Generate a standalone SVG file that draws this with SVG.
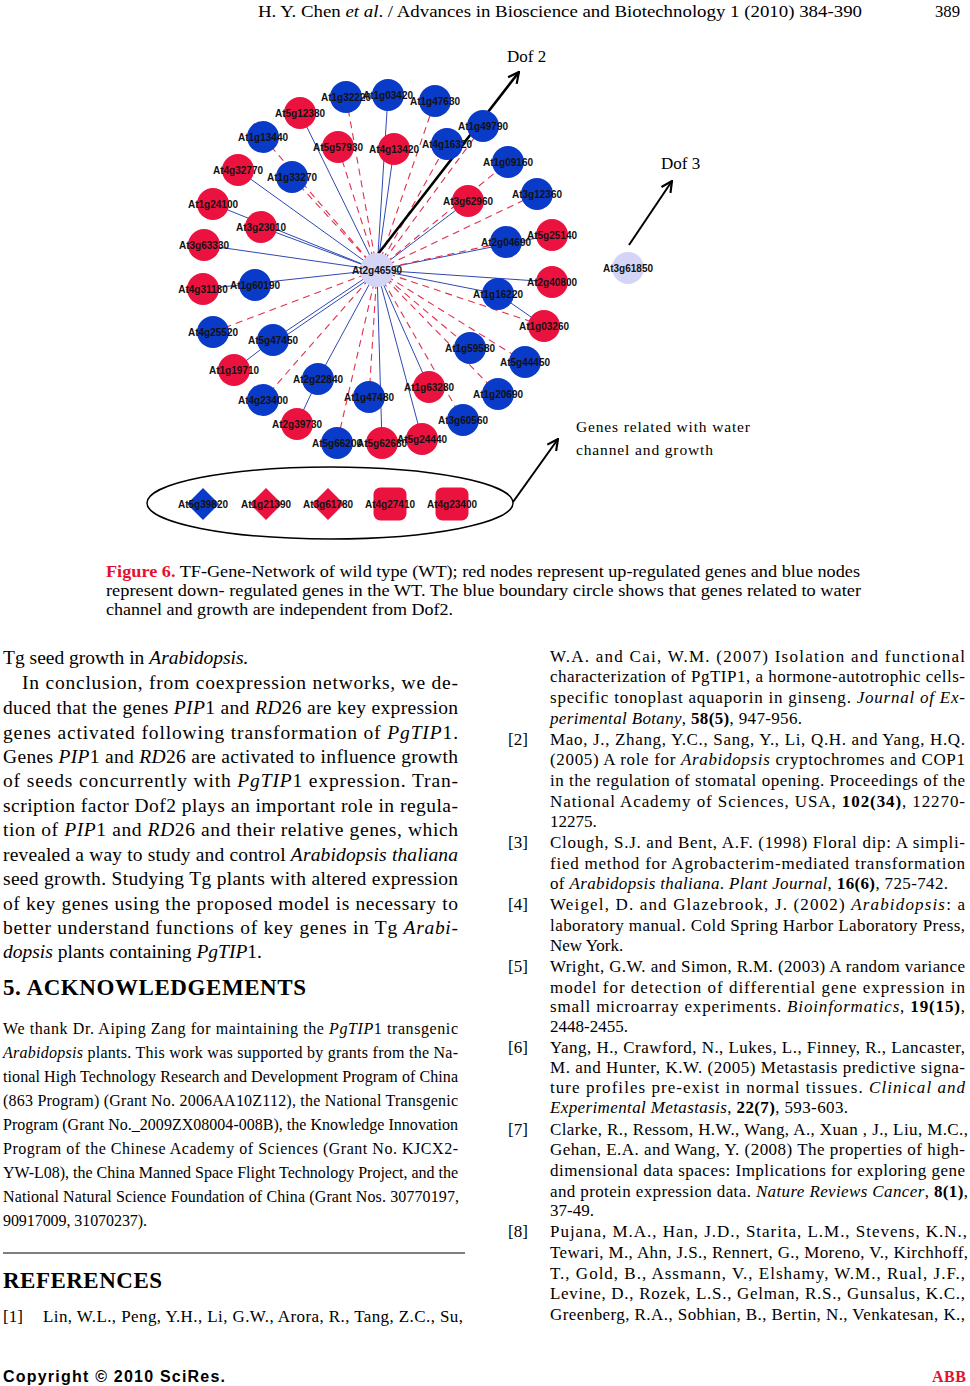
<svg xmlns="http://www.w3.org/2000/svg" width="970" height="1386" viewBox="0 0 970 1386">
<style>
.r{fill:#EC1240}
.b{fill:#0A3AC8}
.c{fill:#D4D4F6}
.lbl{font-family:"Liberation Sans",Arial,sans-serif;font-weight:bold;font-size:10px;fill:#111;text-anchor:middle}
.eb{stroke:#2E48B4;stroke-width:1;fill:none}
.er{stroke:#E0304E;stroke-width:1.1;stroke-dasharray:7 5;fill:none}
.ser{font-family:"Liberation Serif","Times New Roman",serif;fill:#000}
.body{font-size:19.5px}
.ref{font-size:17px}
.ack{font-size:16px}
.cap{font-size:17px}
.it{font-style:italic}
.bd{font-weight:bold}
.arrow{stroke:#000;fill:none}
</style>
<defs>
<marker id="arr" viewBox="0 0 12 12" refX="11" refY="6" markerWidth="13" markerHeight="13" markerUnits="userSpaceOnUse" orient="auto">
<path d="M1,1 L11,6 L1,11" fill="none" stroke="#000" stroke-width="2"/>
</marker>
</defs>
<rect width="970" height="1386" fill="#fff"/>

<!-- header -->
<g id="header" class="ser">
<text x="258" y="17" font-size="16" textLength="604" lengthAdjust="spacingAndGlyphs">H. Y. Chen <tspan class="it">et al</tspan>. / Advances in Bioscience and Biotechnology 1 (2010) 384-390</text>
<text x="935" y="17" font-size="16" textLength="25" lengthAdjust="spacingAndGlyphs">389</text>
</g>

<!-- connectors -->
<g id="connectors">
<line class="eb" x1="377" y1="270" x2="300" y2="113"/>
<line class="eb" x1="377" y1="270" x2="238" y2="170"/>
<line class="eb" x1="377" y1="270" x2="213" y2="204"/>
<line class="eb" x1="377" y1="270" x2="261" y2="227"/>
<line class="eb" x1="377" y1="270" x2="204" y2="245"/>
<line class="eb" x1="377" y1="270" x2="388" y2="95"/>
<line class="eb" x1="377" y1="270" x2="394" y2="149"/>
<line class="eb" x1="377" y1="270" x2="468" y2="201"/>
<line class="eb" x1="377" y1="270" x2="552" y2="235"/>
<line class="eb" x1="377" y1="270" x2="552" y2="282"/>
<line class="eb" x1="377" y1="270" x2="498" y2="294"/>
<line class="eb" x1="498" y1="294" x2="544" y2="326"/>
<line class="eb" x1="377" y1="270" x2="203" y2="289"/>
<line class="eb" x1="377" y1="270" x2="273" y2="340"/>
<line class="eb" x1="379" y1="272" x2="275" y2="343"/>
<line class="eb" x1="273" y1="340" x2="234" y2="370"/>
<line class="eb" x1="377" y1="270" x2="318" y2="379"/>
<line class="eb" x1="318" y1="379" x2="297" y2="424"/>
<line class="eb" x1="377" y1="270" x2="382" y2="443"/>
<line class="eb" x1="377" y1="270" x2="429" y2="387"/>
<line class="eb" x1="377" y1="270" x2="422" y2="439"/>
<line class="er" x1="377" y1="270" x2="346" y2="97"/>
<line class="er" x1="377" y1="270" x2="338" y2="147"/>
<line class="er" x1="377" y1="270" x2="435" y2="101"/>
<line class="er" x1="377" y1="270" x2="447" y2="144"/>
<line class="er" x1="377" y1="270" x2="292" y2="177"/>
<line class="er" x1="377" y1="270" x2="263" y2="137"/>
<line class="er" x1="377" y1="270" x2="483" y2="126"/>
<line class="er" x1="377" y1="270" x2="508" y2="162"/>
<line class="er" x1="377" y1="270" x2="537" y2="194"/>
<line class="er" x1="377" y1="270" x2="506" y2="242"/>
<line class="er" x1="377" y1="270" x2="544" y2="326"/>
<line class="er" x1="377" y1="270" x2="213" y2="332"/>
<line class="er" x1="377" y1="270" x2="263" y2="400"/>
<line class="er" x1="377" y1="270" x2="337" y2="443"/>
<line class="er" x1="377" y1="270" x2="369" y2="397"/>
<line class="er" x1="377" y1="270" x2="470" y2="348"/>
<line class="er" x1="377" y1="270" x2="525" y2="362"/>
<line class="er" x1="377" y1="270" x2="498" y2="394"/>
<line class="er" x1="377" y1="270" x2="463" y2="420"/>
<line class="arrow" stroke-width="2.6" x1="378" y1="254" x2="519" y2="72" marker-end="url(#arr)"/>
<line class="arrow" stroke-width="2" x1="629" y1="245" x2="672" y2="181" marker-end="url(#arr)"/>
<line class="arrow" stroke-width="2" x1="513" y1="502" x2="558" y2="439" marker-end="url(#arr)"/>
</g>

<!-- nodes -->
<g id="n-At1g32220"><circle class="b" cx="346" cy="97" r="16"/><text class="lbl" x="346" y="100.5">At1g32220</text></g>
<g id="n-At1g03420"><circle class="b" cx="388" cy="95" r="16"/><text class="lbl" x="388" y="98.5">At1g03420</text></g>
<g id="n-At1g47630"><circle class="b" cx="435" cy="101" r="16"/><text class="lbl" x="435" y="104.5">At1g47630</text></g>
<g id="n-At5g12380"><circle class="r" cx="300" cy="113" r="16"/><text class="lbl" x="300" y="116.5">At5g12380</text></g>
<g id="n-At1g13440"><circle class="b" cx="263" cy="137" r="16"/><text class="lbl" x="263" y="140.5">At1g13440</text></g>
<g id="n-At5g57930"><circle class="r" cx="338" cy="147" r="16"/><text class="lbl" x="338" y="150.5">At5g57930</text></g>
<g id="n-At4g13420"><circle class="r" cx="394" cy="149" r="16"/><text class="lbl" x="394" y="152.5">At4g13420</text></g>
<g id="n-At4g16320"><circle class="b" cx="447" cy="144" r="16"/><text class="lbl" x="447" y="147.5">At4g16320</text></g>
<g id="n-At1g49790"><circle class="b" cx="483" cy="126" r="16"/><text class="lbl" x="483" y="129.5">At1g49790</text></g>
<g id="n-At4g32770"><circle class="r" cx="238" cy="170" r="16"/><text class="lbl" x="238" y="173.5">At4g32770</text></g>
<g id="n-At1g33270"><circle class="b" cx="292" cy="177" r="16"/><text class="lbl" x="292" y="180.5">At1g33270</text></g>
<g id="n-At1g09160"><circle class="b" cx="508" cy="162" r="16"/><text class="lbl" x="508" y="165.5">At1g09160</text></g>
<g id="n-At1g24100"><circle class="r" cx="213" cy="204" r="16"/><text class="lbl" x="213" y="207.5">At1g24100</text></g>
<g id="n-At3g23010"><circle class="r" cx="261" cy="227" r="16"/><text class="lbl" x="261" y="230.5">At3g23010</text></g>
<g id="n-At3g62960"><circle class="r" cx="468" cy="201" r="16"/><text class="lbl" x="468" y="204.5">At3g62960</text></g>
<g id="n-At3g12360"><circle class="b" cx="537" cy="194" r="16"/><text class="lbl" x="537" y="197.5">At3g12360</text></g>
<g id="n-At3g63330"><circle class="r" cx="204" cy="245" r="16"/><text class="lbl" x="204" y="248.5">At3g63330</text></g>
<g id="n-At2g04690"><circle class="b" cx="506" cy="242" r="16"/><text class="lbl" x="506" y="245.5">At2g04690</text></g>
<g id="n-At5g25140"><circle class="r" cx="552" cy="235" r="16"/><text class="lbl" x="552" y="238.5">At5g25140</text></g>
<g id="n-At4g31180"><circle class="r" cx="203" cy="289" r="16"/><text class="lbl" x="203" y="292.5">At4g31180</text></g>
<g id="n-At1g60190"><circle class="b" cx="255" cy="285" r="16"/><text class="lbl" x="255" y="288.5">At1g60190</text></g>
<g id="n-At2g40800"><circle class="r" cx="552" cy="282" r="16"/><text class="lbl" x="552" y="285.5">At2g40800</text></g>
<g id="n-At1g16220"><circle class="b" cx="498" cy="294" r="16"/><text class="lbl" x="498" y="297.5">At1g16220</text></g>
<g id="n-At1g03260"><circle class="r" cx="544" cy="326" r="16"/><text class="lbl" x="544" y="329.5">At1g03260</text></g>
<g id="n-At4g25520"><circle class="b" cx="213" cy="332" r="16"/><text class="lbl" x="213" y="335.5">At4g25520</text></g>
<g id="n-At5g47450"><circle class="b" cx="273" cy="340" r="16"/><text class="lbl" x="273" y="343.5">At5g47450</text></g>
<g id="n-At1g59580"><circle class="b" cx="470" cy="348" r="16"/><text class="lbl" x="470" y="351.5">At1g59580</text></g>
<g id="n-At5g44450"><circle class="b" cx="525" cy="362" r="16"/><text class="lbl" x="525" y="365.5">At5g44450</text></g>
<g id="n-At1g19710"><circle class="r" cx="234" cy="370" r="16"/><text class="lbl" x="234" y="373.5">At1g19710</text></g>
<g id="n-At2g22840"><circle class="b" cx="318" cy="379" r="16"/><text class="lbl" x="318" y="382.5">At2g22840</text></g>
<g id="n-At4g23400a"><circle class="b" cx="263" cy="400" r="16"/><text class="lbl" x="263" y="403.5">At4g23400</text></g>
<g id="n-At1g47480"><circle class="b" cx="369" cy="397" r="16"/><text class="lbl" x="369" y="400.5">At1g47480</text></g>
<g id="n-At1g63280"><circle class="r" cx="429" cy="387" r="16"/><text class="lbl" x="429" y="390.5">At1g63280</text></g>
<g id="n-At1g20690"><circle class="b" cx="498" cy="394" r="16"/><text class="lbl" x="498" y="397.5">At1g20690</text></g>
<g id="n-At2g39730"><circle class="r" cx="297" cy="424" r="16"/><text class="lbl" x="297" y="427.5">At2g39730</text></g>
<g id="n-At3g60560"><circle class="b" cx="463" cy="420" r="16"/><text class="lbl" x="463" y="423.5">At3g60560</text></g>
<g id="n-At5g66200"><circle class="b" cx="337" cy="443" r="16"/><text class="lbl" x="337" y="446.5">At5g66200</text></g>
<g id="n-At5g62680"><circle class="r" cx="382" cy="443" r="16"/><text class="lbl" x="382" y="446.5">At5g62680</text></g>
<g id="n-At5g24440"><circle class="r" cx="422" cy="439" r="16"/><text class="lbl" x="422" y="442.5">At5g24440</text></g>
<g id="n-At2g46590"><circle class="c" cx="377" cy="270" r="17"/><text class="lbl" x="377" y="273.5">At2g46590</text></g>
<g id="n-At3g61850"><circle class="c" cx="628" cy="268" r="16"/><text class="lbl" x="628" y="271.5">At3g61850</text></g>

<g id="dof2"><text class="ser" x="507" y="62" font-size="17">Dof 2</text></g>
<g id="dof3"><text class="ser" x="661" y="169" font-size="17">Dof 3</text></g>
<g id="water-label" class="ser" font-size="15.5">
<text x="576" y="432" textLength="174">Genes related with water</text>
<text x="576" y="455" textLength="137">channel and growth</text>
</g>

<g id="water-group">
<ellipse cx="330" cy="503" rx="183" ry="36" fill="none" stroke="#000" stroke-width="1.5"/>
<g id="n-At5g39820"><path class="b" d="M203,488 L219,504 L203,520 L187,504 Z"/><text class="lbl" x="203" y="507.5">At5g39820</text></g>
<g id="n-At1g21390"><path class="r" d="M266,488 L282,504 L266,520 L250,504 Z"/><text class="lbl" x="266" y="507.5">At1g21390</text></g>
<g id="n-At3g61780"><path class="r" d="M328,488 L344,504 L328,520 L312,504 Z"/><text class="lbl" x="328" y="507.5">At3g61780</text></g>
<g id="n-At4g27410"><rect class="r" x="373.5" y="487.5" width="33" height="33" rx="7"/><text class="lbl" x="390" y="507.5">At4g27410</text></g>
<g id="n-At4g23400b"><rect class="r" x="435.5" y="487.5" width="33" height="33" rx="7"/><text class="lbl" x="452" y="507.5">At4g23400</text></g>
</g>

<!-- caption -->
<g id="caption" class="ser cap">
<text x="106" y="577" textLength="754" lengthAdjust="spacingAndGlyphs"><tspan class="bd" fill="#E4112D">Figure 6.</tspan> TF-Gene-Network of wild type (WT); red nodes represent up-regulated genes and blue nodes</text>
<text x="106" y="596" textLength="755" lengthAdjust="spacingAndGlyphs">represent down- regulated genes in the WT. The blue boundary circle shows that genes related to water</text>
<text x="106" y="615" textLength="347" lengthAdjust="spacingAndGlyphs">channel and growth are independent from Dof2.</text>
</g>

<!-- left column -->
<g id="left-body" class="ser body">
<text x="3" y="664">Tg seed growth in <tspan class="it">Arabidopsis.</tspan></text>
<text x="22" y="689" textLength="436">In conclusion, from coexpression networks, we de-</text>
<text x="3" y="714" textLength="455">duced that the genes <tspan class="it">PIP</tspan>1 and <tspan class="it">RD</tspan>26 are key expression</text>
<text x="3" y="739" textLength="455">genes activated following transformation of <tspan class="it">PgTIP</tspan>1.</text>
<text x="3" y="763" textLength="455">Genes <tspan class="it">PIP</tspan>1 and <tspan class="it">RD</tspan>26 are activated to influence growth</text>
<text x="3" y="787" textLength="455">of seeds concurrently with <tspan class="it">PgTIP</tspan>1 expression. Tran-</text>
<text x="3" y="812" textLength="455">scription factor Dof2 plays an important role in regula-</text>
<text x="3" y="836" textLength="455">tion of <tspan class="it">PIP</tspan>1 and <tspan class="it">RD</tspan>26 and their relative genes, which</text>
<text x="3" y="861" textLength="455">revealed a way to study and control <tspan class="it">Arabidopsis thaliana</tspan></text>
<text x="3" y="885" textLength="455">seed growth. Studying Tg plants with altered expression</text>
<text x="3" y="910" textLength="455">of key genes using the proposed model is necessary to</text>
<text x="3" y="934" textLength="455">better understand functions of key genes in Tg <tspan class="it">Arabi-</tspan></text>
<text x="3" y="958"><tspan class="it">dopsis</tspan> plants containing <tspan class="it">PgTIP</tspan>1.</text>
<text x="3" y="995" class="bd" font-size="23" textLength="303">5. ACKNOWLEDGEMENTS</text>
</g>

<g id="ack" class="ser ack">
<text x="3" y="1034" textLength="455">We thank Dr. Aiping Zang for maintaining the <tspan class="it">PgTIP</tspan>1 transgenic</text>
<text x="3" y="1058" textLength="455"><tspan class="it">Arabidopsis</tspan> plants. This work was supported by grants from the Na-</text>
<text x="3" y="1082" textLength="455">tional High Technology Research and Development Program of China</text>
<text x="3" y="1106" textLength="455">(863 Program) (Grant No. 2006AA10Z112), the National Transgenic</text>
<text x="3" y="1130" textLength="455">Program (Grant No._2009ZX08004-008B), the Knowledge Innovation</text>
<text x="3" y="1154" textLength="455">Program of the Chinese Academy of Sciences (Grant No. KJCX2-</text>
<text x="3" y="1178" textLength="455">YW-L08), the China Manned Space Flight Technology Project, and the</text>
<text x="3" y="1202" textLength="456">National Natural Science Foundation of China (Grant Nos. 30770197,</text>
<text x="3" y="1226" textLength="144">90917009, 31070237).</text>
</g>

<line x1="3" y1="1253" x2="465" y2="1253" stroke="#000" stroke-width="1.2"/>

<g id="refs-left" class="ser">
<text x="3" y="1288" class="bd" font-size="23" textLength="159">REFERENCES</text>
<text x="3" y="1322" class="ref">[1]</text>
<text x="43" y="1322" class="ref" textLength="420">Lin, W.L., Peng, Y.H., Li, G.W., Arora, R., Tang, Z.C., Su,</text>
</g>

<g id="footer">
<text x="3" y="1382" font-family="'Liberation Sans',Arial,sans-serif" font-weight="bold" font-size="16" textLength="222">Copyright © 2010 SciRes.</text>
<text x="932" y="1382" font-family="'Liberation Serif',serif" font-weight="bold" font-size="16" fill="#E4112D" textLength="34">ABB</text>
</g>

<!-- right column -->
<g id="refs-right" class="ser ref">
<text x="550" y="662" textLength="415">W.A. and Cai, W.M. (2007) Isolation and functional</text>
<text x="550" y="682" textLength="415">characterization of PgTIP1, a hormone-autotrophic cells-</text>
<text x="550" y="703" textLength="415">specific tonoplast aquaporin in ginseng. <tspan class="it">Journal of Ex-</tspan></text>
<text x="550" y="724" textLength="252"><tspan class="it">perimental Botany</tspan>, <tspan class="bd">58(5)</tspan>, 947-956.</text>
<text x="508" y="745">[2]</text>
<text x="550" y="745" textLength="415">Mao, J., Zhang, Y.C., Sang, Y., Li, Q.H. and Yang, H.Q.</text>
<text x="550" y="765" textLength="415">(2005) A role for <tspan class="it">Arabidopsis</tspan> cryptochromes and COP1</text>
<text x="550" y="786" textLength="415">in the regulation of stomatal opening. Proceedings of the</text>
<text x="550" y="807" textLength="415">National Academy of Sciences, USA, <tspan class="bd">102(34)</tspan>, 12270-</text>
<text x="550" y="827">12275.</text>
<text x="508" y="848">[3]</text>
<text x="550" y="848" textLength="415">Clough, S.J. and Bent, A.F. (1998) Floral dip: A simpli-</text>
<text x="550" y="869" textLength="415">fied method for Agrobacterim-mediated transformation</text>
<text x="550" y="889" textLength="398">of <tspan class="it">Arabidopsis thaliana</tspan>. <tspan class="it">Plant Journal</tspan>, <tspan class="bd">16(6)</tspan>, 725-742.</text>
<text x="508" y="910">[4]</text>
<text x="550" y="910" textLength="415">Weigel, D. and Glazebrook, J. (2002) <tspan class="it">Arabidopsis</tspan>: a</text>
<text x="550" y="931" textLength="415">laboratory manual. Cold Spring Harbor Laboratory Press,</text>
<text x="550" y="951">New York.</text>
<text x="508" y="972">[5]</text>
<text x="550" y="972" textLength="415">Wright, G.W. and Simon, R.M. (2003) A random variance</text>
<text x="550" y="993" textLength="415">model for detection of differential gene expression in</text>
<text x="550" y="1012" textLength="415">small microarray experiments. <tspan class="it">Bioinformatics</tspan>, <tspan class="bd">19(15)</tspan>,</text>
<text x="550" y="1032">2448-2455.</text>
<text x="508" y="1053">[6]</text>
<text x="550" y="1053" textLength="415">Yang, H., Crawford, N., Lukes, L., Finney, R., Lancaster,</text>
<text x="550" y="1073" textLength="415">M. and Hunter, K.W. (2005) Metastasis predictive signa-</text>
<text x="550" y="1093" textLength="415">ture profiles pre-exist in normal tissues. <tspan class="it">Clinical and</tspan></text>
<text x="550" y="1113" textLength="298"><tspan class="it">Experimental Metastasis</tspan>, <tspan class="bd">22(7)</tspan>, 593-603.</text>
<text x="508" y="1135">[7]</text>
<text x="550" y="1135" textLength="418">Clarke, R., Ressom, H.W., Wang, A., Xuan , J., Liu, M.C.,</text>
<text x="550" y="1155" textLength="415">Gehan, E.A. and Wang, Y. (2008) The properties of high-</text>
<text x="550" y="1176" textLength="415">dimensional data spaces: Implications for exploring gene</text>
<text x="550" y="1197" textLength="418">and protein expression data. <tspan class="it">Nature Reviews Cancer</tspan>, <tspan class="bd">8(1)</tspan>,</text>
<text x="550" y="1216">37-49.</text>
<text x="508" y="1237">[8]</text>
<text x="550" y="1237" textLength="417">Pujana, M.A., Han, J.D., Starita, L.M., Stevens, K.N.,</text>
<text x="550" y="1258" textLength="418">Tewari, M., Ahn, J.S., Rennert, G., Moreno, V., Kirchhoff,</text>
<text x="550" y="1279" textLength="415">T., Gold, B., Assmann, V., Elshamy, W.M., Rual, J.F.,</text>
<text x="550" y="1299" textLength="415">Levine, D., Rozek, L.S., Gelman, R.S., Gunsalus, K.C.,</text>
<text x="550" y="1320" textLength="415">Greenberg, R.A., Sobhian, B., Bertin, N., Venkatesan, K.,</text>
</g>
</svg>
